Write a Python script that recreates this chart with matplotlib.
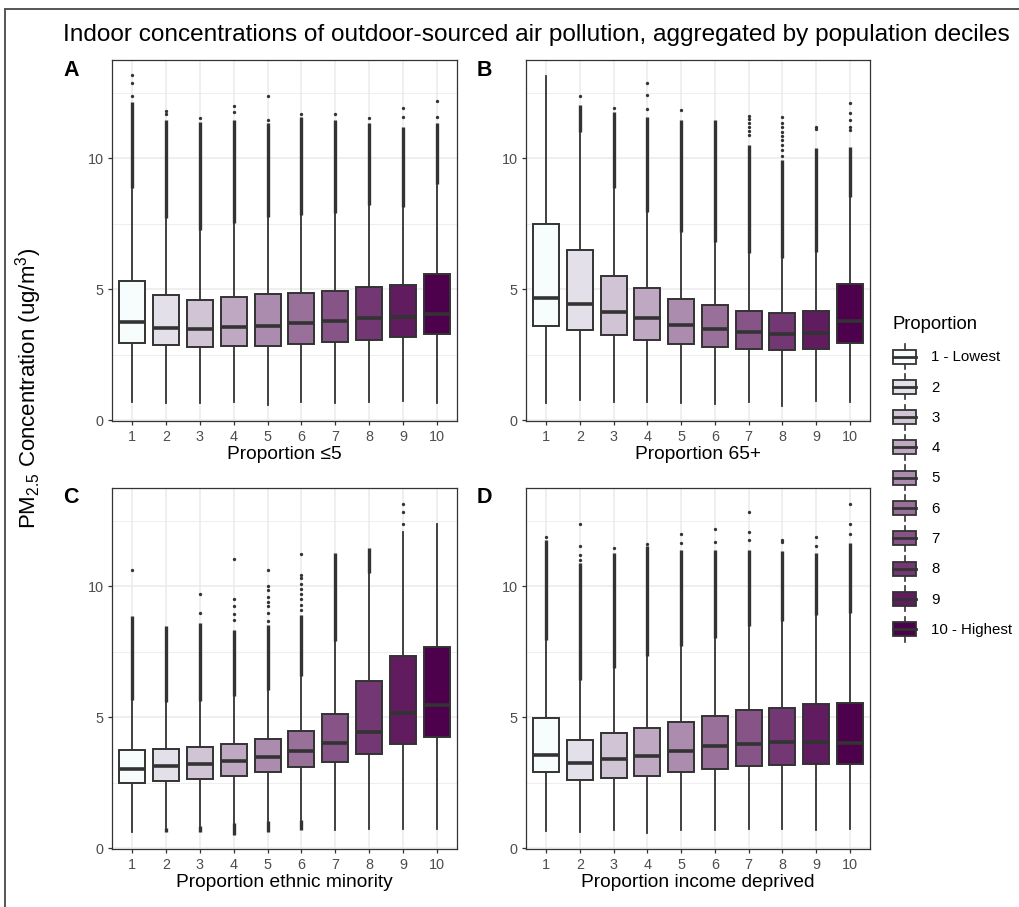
import matplotlib
matplotlib.use("Agg")
import matplotlib.pyplot as plt
from matplotlib.patches import Rectangle, Patch
from matplotlib.lines import Line2D
from matplotlib.legend_handler import HandlerBase

plt.rcParams['font.family'] = ['Liberation Sans', 'DejaVu Sans']
plt.rcParams['mathtext.fontset'] = 'custom'
plt.rcParams['mathtext.rm'] = 'Liberation Sans'
plt.rcParams['mathtext.it'] = 'Liberation Sans:italic'

# ---------------- data ----------------
deciles = [1, 2, 3, 4, 5, 6, 7, 8, 9, 10]
legend_labels = ["1 - Lowest", "2", "3", "4", "5", "6", "7", "8", "9", "10 - Highest"]
fill_colors = ["#F7FCFD", "#E4E0E9", "#D1C4D5", "#BEA8C2", "#AB8CAE",
               "#99709A", "#865486", "#733873", "#601C5F", "#4D004B"]

title = "Indoor concentrations of outdoor-sourced air pollution, aggregated by population deciles"
y_title = r"PM$_{\mathregular{2.5}}$ Concentration (ug/m$^{\mathregular{3}}$)"
y_ticks = [0, 5, 10]

# Panel A: Proportion <=5
A_label = "Proportion \u22645"
A_q1 = [2.96, 2.86, 2.80, 2.83, 2.83, 2.92, 3.00, 3.07, 3.17, 3.28]
A_med = [3.75, 3.54, 3.50, 3.57, 3.61, 3.70, 3.79, 3.90, 3.94, 4.07]
A_q3 = [5.33, 4.79, 4.60, 4.72, 4.81, 4.88, 4.95, 5.11, 5.15, 5.57]
A_wlo = [0.69, 0.65, 0.67, 0.70, 0.58, 0.71, 0.67, 0.71, 0.73, 0.66]
A_whi = [8.88, 7.71, 7.26, 7.52, 7.77, 7.84, 7.90, 8.22, 8.15, 9.02]
A_dense_hi = [12.16, 11.46, 11.40, 11.46, 11.36, 11.59, 11.46, 11.33, 11.21, 11.33]
A_dense_lo = [None] * 10
A_sparse = [[12.39, 12.89, 13.18], [11.70, 11.80], [11.55], [11.78, 12.00],
            [11.48, 12.39], [11.70], [11.68], [11.52], [11.59, 11.93], [11.59, 12.19]]

# Panel B: Proportion 65+
B_label = "Proportion 65+"
B_q1 = [3.61, 3.47, 3.26, 3.07, 2.90, 2.80, 2.71, 2.67, 2.71, 2.95]
B_med = [4.68, 4.43, 4.15, 3.90, 3.66, 3.48, 3.36, 3.31, 3.32, 3.79]
B_q3 = [7.48, 6.49, 5.50, 5.04, 4.64, 4.41, 4.18, 4.10, 4.18, 5.20]
B_wlo = [0.65, 0.80, 0.71, 0.71, 0.67, 0.62, 0.71, 0.55, 0.73, 0.71]
B_whi = [13.14, 11.02, 8.85, 7.96, 7.20, 6.82, 6.37, 6.18, 6.41, 8.53]
B_dense_hi = [None, 12.03, 11.78, 11.59, 11.46, 11.46, 10.50, 9.93, 10.39, 10.44]
B_dense_lo = [None] * 10
B_sparse = [[], [12.39], [11.93], [11.90, 12.41, 12.89], [11.84], [],
            [10.90, 11.05, 11.20, 11.35, 11.50, 11.62],
            [10.10, 10.30, 10.50, 10.70, 10.85, 11.00, 11.20, 11.35, 11.56],
            [11.10, 11.20], [11.08, 11.20, 11.46, 11.74, 12.12]]

# Panel C: Proportion ethnic minority
C_label = "Proportion ethnic minority"
C_q1 = [2.50, 2.59, 2.65, 2.78, 2.91, 3.10, 3.29, 3.59, 3.99, 4.25]
C_med = [3.05, 3.14, 3.23, 3.33, 3.48, 3.73, 4.03, 4.44, 5.17, 5.46]
C_q3 = [3.77, 3.80, 3.87, 4.00, 4.18, 4.50, 5.13, 6.40, 7.33, 7.67]
C_wlo = [0.62, 0.79, 0.87, 0.98, 1.04, 1.07, 0.69, 0.76, 0.76, 0.76]
C_whi = [5.68, 5.59, 5.64, 5.80, 6.06, 6.56, 7.90, 10.50, 12.09, 12.38]
C_dense_hi = [8.85, 8.47, 8.60, 8.34, 8.53, 8.91, 11.26, 11.45, None, None]
C_dense_lo = [None, 0.62, 0.62, 0.53, 0.62, 0.69, None, None, None, None]
C_sparse = [[10.63], [], [8.98, 9.71], [8.72, 8.95, 9.23, 9.52, 11.05],
            [8.69, 9.00, 9.23, 9.42, 9.59, 9.87, 10.03, 10.63],
            [9.10, 9.30, 9.50, 9.70, 9.90, 10.10, 10.30, 10.44, 11.24],
            [], [], [12.38, 12.85, 13.14], []]

# Panel D: Proportion income deprived
D_label = "Proportion income deprived"
D_q1 = [2.92, 2.61, 2.70, 2.78, 2.91, 3.03, 3.14, 3.19, 3.24, 3.24]
D_med = [3.57, 3.26, 3.42, 3.54, 3.72, 3.89, 3.99, 4.05, 4.05, 4.04]
D_q3 = [4.96, 4.15, 4.39, 4.61, 4.83, 5.04, 5.27, 5.37, 5.52, 5.55]
D_wlo = [0.66, 0.62, 0.69, 0.60, 0.69, 0.72, 0.76, 0.76, 0.70, 0.76]
D_whi = [7.96, 6.44, 6.88, 7.33, 7.71, 8.02, 8.47, 8.66, 8.91, 8.98]
D_dense_hi = [11.77, 10.88, 11.26, 11.52, 11.39, 11.39, 11.39, 11.33, 11.26, 11.64]
D_dense_lo = [None] * 10
D_sparse = [[11.90], [11.00, 11.20, 11.54, 12.38], [11.45], [11.60], [11.64, 12.00],
            [11.70, 12.18], [11.77, 12.09, 12.85], [11.70, 11.75], [11.54, 11.87],
            [12.00, 12.38, 13.14]]

# ---------------- style ----------------
EDGE = "#333333"
GRID = "#EBEBEB"
TICKC = "#4D4D4D"
W, H = 1019, 907

fig = plt.figure(figsize=(W / 100, H / 100), dpi=100)


def px_axes(l, t, r, b):
    return fig.add_axes([l / W, 1 - b / H, (r - l) / W, (b - t) / H])


panels = [
    ("A", A_label, A_q1, A_med, A_q3, A_wlo, A_whi, A_dense_hi, A_dense_lo, A_sparse, (112, 60, 457, 421)),
    ("B", B_label, B_q1, B_med, B_q3, B_wlo, B_whi, B_dense_hi, B_dense_lo, B_sparse, (526, 60, 870, 421)),
    ("C", C_label, C_q1, C_med, C_q3, C_wlo, C_whi, C_dense_hi, C_dense_lo, C_sparse, (112, 488, 457, 849)),
    ("D", D_label, D_q1, D_med, D_q3, D_wlo, D_whi, D_dense_hi, D_dense_lo, D_sparse, (526, 488, 870, 849)),
]

for (letter, xlab, q1, med, q3, wlo, whi, dhi, dlo, sparse, rect) in panels:
    ax = px_axes(*rect)
    stats = [dict(med=m, q1=a, q3=b, whislo=lo, whishi=hi, fliers=[])
             for a, m, b, lo, hi in zip(q1, med, q3, wlo, whi)]
    res = ax.bxp(stats, positions=deciles, widths=0.77, patch_artist=True,
                 showcaps=False, showfliers=False,
                 boxprops=dict(edgecolor=EDGE, linewidth=1.4),
                 medianprops=dict(color=EDGE, linewidth=2.6, solid_capstyle='butt'),
                 whiskerprops=dict(color=EDGE, linewidth=1.3))
    for patch, c in zip(res['boxes'], fill_colors):
        patch.set_facecolor(c)
        patch.set_zorder(3)
    for mline in res['medians']:
        mline.set_zorder(4)
    for k, x in enumerate(deciles):
        if dhi[k] is not None:
            ax.vlines(x, whi[k], dhi[k], colors=EDGE, linewidth=2.4, zorder=2)
        if dlo[k] is not None:
            ax.vlines(x, dlo[k], wlo[k], colors=EDGE, linewidth=2.4, zorder=2)
        if sparse[k]:
            ax.plot([x] * len(sparse[k]), sparse[k], 'o', ms=2.4, color=EDGE,
                    mec='none', zorder=2)

    ax.set_xlim(0.4, 10.6)
    ax.set_ylim(-0.02, 13.75)
    ax.set_xticks(deciles)
    ax.set_xticklabels([str(d) for d in deciles])
    ax.set_yticks(y_ticks)
    ax.set_yticks([2.5, 7.5, 12.5], minor=True)
    ax.set_axisbelow(True)
    ax.grid(which='major', color=GRID, linewidth=1.1)
    ax.grid(which='minor', axis='y', color=GRID, linewidth=0.6)
    ax.tick_params(which='major', length=3.2, width=0.9, color=EDGE,
                   labelcolor=TICKC, labelsize=10.4, pad=3)
    ax.tick_params(which='minor', length=0)
    for sp in ax.spines.values():
        sp.set_color(EDGE)
        sp.set_linewidth(0.9)
    ax.set_xlabel(xlab, fontsize=13.8, color="black", labelpad=2)
    fig.text((rect[0] - 49) / W, 1 - (rect[1] + 10) / H, letter, fontsize=15.5,
             fontweight='bold', va='center', ha='left')

fig.text(63 / W, 1 - 35 / H, title, fontsize=17.6, ha='left', va='center')
fig.text(29 / W, 1 - 388 / H, y_title, fontsize=16, rotation=90,
         ha='center', va='center')

# border around figure
fig.patches.append(Rectangle((5 / W, -0.05), 1.2, 1.05 - 9 / H, transform=fig.transFigure,
                             fill=False, edgecolor="#555555", linewidth=1.4))


class BoxKeyHandler(HandlerBase):
    def create_artists(self, legend, orig_handle, xdescent, ydescent, width,
                       height, fontsize, trans):
        x0, y0 = -xdescent, -ydescent
        cx = x0 + width / 2
        cy = y0 + height / 2
        vl = Line2D([cx, cx], [y0, y0 + height], color=EDGE, lw=1.2, transform=trans)
        bx = Rectangle((x0, y0 + 0.22 * height), width, 0.56 * height,
                       facecolor=orig_handle.get_facecolor(), edgecolor=EDGE,
                       lw=1.3, transform=trans)
        md = Line2D([x0, x0 + width], [cy, cy], color=EDGE, lw=2.0, transform=trans)
        return [vl, bx, md]


handles = [Patch(facecolor=c) for c in fill_colors]
leg = fig.legend(handles, legend_labels, loc='upper left',
                 bbox_to_anchor=(893 / W, 1 - 316 / H), frameon=False,
                 fontsize=10.8, title="Proportion", title_fontsize=13.3,
                 handler_map={Patch: BoxKeyHandler()}, handlelength=1.55,
                 handleheight=2.19, labelspacing=0.35, handletextpad=1.0,
                 borderpad=0, borderaxespad=0, alignment='left')

fig.canvas.draw()
leg._legend_box.sep = 8

fig.savefig("out.png", dpi=100)
